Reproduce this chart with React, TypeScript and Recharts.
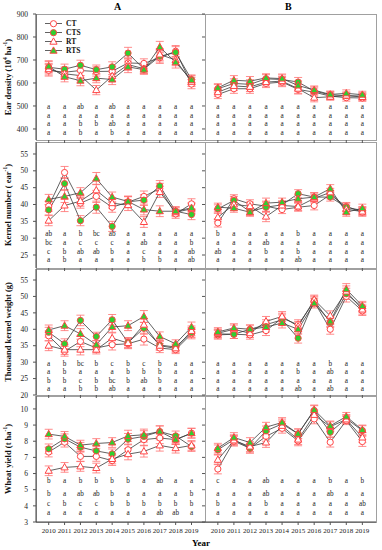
import React from "react";
import { ComposedChart, Line, Scatter, XAxis, YAxis, ErrorBar, Legend } from "recharts";

const years = [2010, 2011, 2012, 2013, 2014, 2015, 2016, 2017, 2018, 2019];
const treatments = ["CT", "CTS", "RT", "RTS"];

// series order: CT, CTS, RT, RTS
const earA = [
  [655, 647, 654, 650, 651, 687, 685, 710, 738, 595],
  [668, 660, 677, 658, 670, 730, 660, 716, 733, 615],
  [660, 640, 632, 569, 630, 680, 662, 724, 700, 605],
  [672, 627, 610, 621, 615, 670, 658, 756, 690, 612],
];
const earB = [
  [550, 575, 575, 598, 604, 572, 560, 543, 536, 535],
  [575, 598, 594, 618, 615, 604, 565, 548, 545, 543],
  [560, 587, 583, 604, 608, 575, 536, 540, 545, 539],
  [579, 612, 608, 622, 619, 589, 569, 550, 555, 549],
];
const kernelA = [
  [39.5, 49.5, 40.4, 42.4, 39.2, 40.7, 42.4, 44.7, 37.2, 40.2],
  [38.4, 46.2, 35.2, 39.2, 33.5, 40.8, 41.3, 45.5, 38.0, 37.0],
  [35.2, 39.7, 41.0, 44.2, 40.4, 39.8, 34.8, 43.7, 37.7, 38.7],
  [41.5, 42.4, 43.5, 47.7, 42.2, 40.9, 38.5, 38.0, 38.0, 39.0],
];
const kernelB = [
  [34.5, 41.7, 40.2, 39.5, 38.5, 39.2, 39.7, 42.9, 39.4, 37.7],
  [38.7, 41.2, 37.9, 39.2, 39.9, 43.2, 42.2, 42.2, 39.2, 38.2],
  [36.2, 40.0, 39.5, 36.4, 39.7, 39.4, 41.8, 43.6, 38.6, 37.9],
  [39.2, 38.9, 37.7, 40.4, 40.7, 41.7, 42.2, 44.7, 37.7, 38.9],
];
const tkwA = [
  [38.0, 33.3, 36.3, 34.3, 35.3, 35.6, 37.0, 34.3, 33.8, 38.6],
  [39.1, 35.6, 42.7, 37.8, 42.9, 36.0, 40.3, 35.2, 34.6, 39.0],
  [35.0, 33.8, 33.8, 33.8, 37.3, 35.8, 41.4, 35.0, 34.2, 39.5],
  [39.8, 41.1, 38.6, 35.3, 40.7, 41.1, 43.9, 37.8, 35.6, 40.7],
];
const tkwB = [
  [38.3, 38.5, 38.3, 39.6, 43.4, 41.4, 48.4, 40.0, 50.0, 45.6],
  [38.6, 38.5, 40.0, 41.4, 42.9, 37.3, 48.7, 42.1, 50.8, 46.7],
  [38.8, 40.0, 38.8, 42.4, 43.9, 40.9, 49.0, 44.1, 51.5, 46.0],
  [39.2, 40.4, 40.0, 40.7, 41.9, 40.0, 47.9, 42.4, 52.2, 47.1],
];
const yieldA = [
  [7.33, 7.94, 7.06, 7.06, 6.8, 7.47, 8.1, 8.2, 8.1, 8.5],
  [7.53, 8.15, 7.63, 7.4, 7.22, 8.13, 8.3, 8.6, 8.33, 7.67],
  [6.17, 6.38, 6.44, 6.34, 6.9, 7.2, 7.37, 7.74, 7.57, 7.74],
  [8.44, 8.3, 7.76, 7.86, 7.92, 8.33, 8.4, 8.6, 8.1, 8.5],
];
const yieldB = [
  [6.28, 8.0, 7.57, 8.3, 8.8, 8.02, 9.38, 7.94, 9.28, 7.98],
  [7.47, 8.1, 7.57, 8.64, 9.07, 8.46, 9.9, 8.56, 9.4, 8.66],
  [6.85, 8.05, 7.67, 7.92, 8.95, 8.1, 9.63, 8.9, 9.35, 8.23],
  [7.57, 8.23, 7.92, 8.87, 9.16, 8.46, 9.94, 8.95, 9.53, 8.7],
];

const earAErr = [25, 22, 22, 20, 22, 25, 20, 25, 25, 20];
const earBErr = [18, 20, 20, 18, 20, 20, 18, 15, 15, 15];
const kernelAErr = [1.5, 1.8, 1.5, 1.8, 1.5, 1.6, 1.6, 1.6, 1.3, 1.5];
const kernelBErr = [1.2, 1.2, 1.2, 1.5, 1.2, 1.2, 1.3, 1.2, 1.2, 1.2];
const tkwAErr = [1.5, 1.5, 1.6, 1.3, 1.6, 1.5, 1.8, 1.4, 1.2, 1.5];
const tkwBErr = [1.3, 1.3, 1.3, 1.5, 1.5, 1.5, 1.4, 1.5, 1.7, 1.4];
const yieldAErr = [0.3, 0.3, 0.3, 0.3, 0.3, 0.35, 0.35, 0.35, 0.3, 0.3];
const yieldBErr = [0.3, 0.3, 0.3, 0.3, 0.3, 0.3, 0.3, 0.3, 0.25, 0.3];

// significance letters, one row per treatment
const earALetters = [
  ["a", "a", "ab", "a", "ab", "a", "a", "a", "a", "a"],
  ["a", "a", "a", "a", "a", "a", "a", "a", "a", "a"],
  ["a", "a", "b", "b", "ab", "a", "a", "a", "a", "a"],
  ["a", "a", "b", "a", "b", "a", "a", "a", "a", "a"],
];
const earBLetters = [
  ["a", "a", "a", "a", "a", "a", "a", "a", "a", "a"],
  ["a", "a", "a", "a", "a", "a", "a", "a", "a", "a"],
  ["a", "a", "a", "a", "a", "a", "a", "a", "a", "a"],
  ["a", "a", "a", "a", "a", "a", "a", "a", "a", "a"],
];
const kernelALetters = [
  ["ab", "a", "b", "bc", "ab", "a", "a", "a", "a", "a"],
  ["bc", "a", "c", "c", "c", "a", "ab", "a", "a", "b"],
  ["c", "b", "ab", "ab", "b", "a", "c", "a", "a", "ab"],
  ["a", "b", "a", "a", "a", "a", "b", "b", "a", "ab"],
];
const kernelBLetters = [
  ["b", "a", "a", "a", "a", "b", "a", "a", "a", "a"],
  ["a", "a", "a", "ab", "a", "a", "a", "a", "a", "a"],
  ["ab", "a", "a", "b", "a", "b", "a", "a", "a", "a"],
  ["a", "a", "a", "a", "a", "ab", "a", "a", "a", "a"],
];
const tkwALetters = [
  ["a", "b", "bc", "b", "c", "b", "c", "b", "a", "a"],
  ["a", "b", "a", "a", "a", "b", "b", "b", "a", "a"],
  ["b", "b", "c", "b", "bc", "b", "ab", "b", "a", "a"],
  ["a", "a", "b", "b", "ab", "a", "a", "a", "a", "a"],
];
const tkwBLetters = [
  ["a", "a", "a", "a", "a", "a", "a", "b", "a", "a"],
  ["a", "a", "a", "a", "a", "b", "a", "ab", "a", "a"],
  ["a", "a", "a", "a", "a", "a", "a", "a", "a", "a"],
  ["a", "a", "a", "a", "a", "ab", "a", "ab", "a", "a"],
];
const yieldALetters = [
  ["b", "a", "b", "b", "b", "b", "a", "ab", "a", "a"],
  ["b", "a", "ab", "ab", "b", "a", "a", "a", "a", "b"],
  ["c", "b", "c", "c", "b", "b", "b", "b", "b", "b"],
  ["a", "a", "a", "a", "a", "a", "a", "ab", "ab", "a"],
];
const yieldBLetters = [
  ["c", "a", "a", "ab", "a", "a", "a", "b", "a", "b"],
  ["a", "a", "a", "ab", "a", "a", "a", "ab", "a", "a"],
  ["b", "a", "a", "b", "a", "a", "a", "a", "a", "ab"],
  ["a", "a", "a", "a", "a", "a", "a", "a", "a", "a"],
];

const earTicks = [400, 500, 600, 700, 800, 900];
const kernelTicks = [25, 30, 35, 40, 45, 50, 55];
const tkwTicks = [20, 25, 30, 35, 40, 45, 50, 55];
const yieldTicks = [3, 4, 5, 6, 7, 8, 9, 10];

const RED = "#ff4545";
const ERR = "#ff6e6e";
const GREEN = "#2fcf2f";
const LINE = "#3a3a3a";
const BORDER = "#a0a0a0";
const FONT = "'Liberation Serif', 'Times New Roman', serif";

function Marker({ cx, cy, kind }: { cx: number; cy: number; kind: string }) {
  if (cx == null || cy == null) return null;
  if (kind === "CT" || kind === "CTS") {
    return (
      <circle cx={cx} cy={cy} r={3.1} fill={kind === "CT" ? "#fff" : GREEN} stroke={RED} strokeWidth={1} />
    );
  }
  const pts = `${cx},${cy - 3.8} ${cx + 3.6},${cy + 2.5} ${cx - 3.6},${cy + 2.5}`;
  return <polygon points={pts} fill={kind === "RT" ? "#fff" : GREEN} stroke={RED} strokeWidth={1} />;
}

function buildRows(series: number[][], err: number[]) {
  return years.map((year, i) => {
    const row: any = { year, err: err[i] };
    treatments.forEach((t, k) => (row[t] = series[k][i]));
    return row;
  });
}

function letterRows(letters: string[][], levels: number[], k: number) {
  return years.map((year, i) => ({ year, y: levels[k], text: letters[k][i] }));
}

function LegendBox() {
  return (
    <div style={{ fontFamily: FONT, fontWeight: "bold", fontSize: 7.5, color: "#111" }}>
      {treatments.map((t) => (
        <div key={t} style={{ display: "flex", alignItems: "center", height: 9 }}>
          <svg width={19} height={9}>
            <line x1={0} x2={17} y1={4.5} y2={4.5} stroke={LINE} strokeWidth={0.8} />
            <Marker cx={8.5} cy={4.7} kind={t} />
          </svg>
          <span style={{ marginLeft: 2 }}>{t}</span>
        </div>
      ))}
    </div>
  );
}

function YTitle(props: any) {
  const vb = props.viewBox || {};
  const cx = 8;
  const cy = vb.y + vb.height / 2;
  return (
    <text
      x={cx}
      y={cy}
      transform={`rotate(-90 ${cx} ${cy})`}
      textAnchor="middle"
      dominantBaseline="central"
      fontFamily={FONT}
      fontWeight="bold"
      fontSize={8.5}
      fill="#111"
    >
      {props.parts}
    </text>
  );
}

const sup = (s: string) => (
  <tspan baselineShift="super" fontSize={5.5}>
    {s}
  </tspan>
);

type PanelProps = {
  left: number;
  top: number;
  width: number;
  plotH: number;
  side: "A" | "B";
  bottom: boolean;
  series: number[][];
  err: number[];
  letters: string[][];
  levels: number[];
  domain: [number, number];
  ticks: number[];
  title?: React.ReactNode;
  legend?: boolean;
};

function Panel(p: PanelProps) {
  const xh = p.bottom ? 24 : 4;
  const mt = 4;
  const yW = p.side === "A" ? 36 : 6;
  const rows = buildRows(p.series, p.err);
  return (
    <div style={{ position: "absolute", left: p.left, top: p.top - mt }}>
      <ComposedChart
        width={p.width}
        height={mt + p.plotH + xh}
        data={rows}
        margin={{ top: mt, right: 0, bottom: 0, left: 0 }}
      >
        <XAxis
          dataKey="year"
          type="number"
          domain={[2009.2, 2019.85]}
          ticks={years}
          interval={0}
          allowDataOverflow
          height={xh}
          tickSize={3}
          tickMargin={3}
          axisLine={p.bottom ? { stroke: "#444" } : false}
          tickLine={{ stroke: "#555" }}
          tick={{ fontSize: 7, fill: "#222", fontFamily: FONT }}
          tickFormatter={(v) => (p.bottom ? String(v) : "")}
        />
        <YAxis
          type="number"
          domain={p.domain}
          ticks={p.ticks}
          interval={0}
          allowDataOverflow
          width={yW}
          tickSize={3}
          tickMargin={5}
          axisLine={p.side === "A" ? { stroke: "#444" } : false}
          tickLine={{ stroke: "#555" }}
          tick={{ fontSize: 7.5, fill: "#222", fontFamily: FONT }}
          tickFormatter={(v) => (p.side === "A" ? String(v) : "")}
          label={p.title ? <YTitle parts={p.title} /> : undefined}
        />
        {p.legend && (
          <Legend
            layout="vertical"
            align="center"
            verticalAlign="middle"
            wrapperStyle={{ left: 45, top: 9, width: 60, height: 36 }}
            content={() => <LegendBox />}
          />
        )}
        {treatments.map((t) => (
          <Line
            key={t}
            dataKey={t}
            name={t}
            stroke={LINE}
            strokeWidth={0.8}
            isAnimationActive={false}
            activeDot={false}
            dot={(d: any) => <Marker key={`${t}-${d.index}`} cx={d.cx} cy={d.cy} kind={t} />}
          >
            <ErrorBar dataKey="err" direction="y" width={4} stroke={ERR} strokeWidth={0.8} />
          </Line>
        ))}
        {treatments.map((t, k) => (
          <Scatter
            key={`letters-${t}`}
            data={letterRows(p.letters, p.levels, k)}
            dataKey="y"
            isAnimationActive={false}
            shape={(s: any) => (
              <text
                x={s.cx}
                y={s.cy}
                textAnchor="middle"
                dominantBaseline="central"
                fontFamily={FONT}
                fontSize={7.2}
                fill="#222"
              >
                {s.payload.text}
              </text>
            )}
          />
        ))}
      </ComposedChart>
    </div>
  );
}

const rowsGeom = [
  { top: 14, h: 126 },
  { top: 142, h: 126 },
  { top: 269, h: 126 },
  { top: 396, h: 126 },
];

export default function App() {
  const colA = { left: 0, width: 205 };
  const colB = { left: 199, width: 177 };
  const frames = [
    [36, 205],
    [205, 376],
  ];
  return (
    <div style={{ position: "absolute", left: 0, top: 0, width: 382, height: 550, background: "#fff", overflow: "hidden" }}>
      <div style={{ position: "absolute", left: 114, top: 1, fontFamily: FONT, fontWeight: "bold", fontSize: 10 }}>A</div>
      <div style={{ position: "absolute", left: 285, top: 1, fontFamily: FONT, fontWeight: "bold", fontSize: 10 }}>B</div>

      {rowsGeom.map((r, i) =>
        frames.map(([x0, x1], j) => (
          <div
            key={`f${i}${j}`}
            style={{
              position: "absolute",
              left: x0,
              top: r.top,
              width: x1 - x0 + 1,
              height: r.h + 1,
              border: `1px solid ${BORDER}`,
              boxSizing: "border-box",
            }}
          />
        ))
      )}

      <Panel {...colA} top={14} plotH={126} side="A" bottom={false} series={earA} err={earAErr}
        letters={earALetters} levels={[496, 458, 420, 382]} domain={[352, 900]} ticks={earTicks}
        title={<>Ear density (10{sup("4")} ha{sup("-1")})</>} legend />
      <Panel {...colB} top={14} plotH={126} side="B" bottom={false} series={earB} err={earBErr}
        letters={earBLetters} levels={[496, 458, 420, 382]} domain={[352, 900]} ticks={earTicks} />

      <Panel {...colA} top={142} plotH={126} side="A" bottom={false} series={kernelA} err={kernelAErr}
        letters={kernelALetters} levels={[31.2, 28.6, 26.0, 23.4]} domain={[21.14, 58.56]} ticks={kernelTicks}
        title={<>Kernel number ( ear{sup("-1")})</>} />
      <Panel {...colB} top={142} plotH={126} side="B" bottom={false} series={kernelB} err={kernelBErr}
        letters={kernelBLetters} levels={[31.2, 28.6, 26.0, 23.4]} domain={[21.14, 58.56]} ticks={kernelTicks} />

      <Panel {...colA} top={269} plotH={126} side="A" bottom={false} series={tkwA} err={tkwAErr}
        letters={tkwALetters} levels={[29.4, 26.9, 24.4, 21.9]} domain={[20, 58.35]} ticks={tkwTicks}
        title={<>Thousand kernel weight (g)</>} />
      <Panel {...colB} top={269} plotH={126} side="B" bottom={false} series={tkwB} err={tkwBErr}
        letters={tkwBLetters} levels={[29.4, 26.9, 24.4, 21.9]} domain={[20, 58.35]} ticks={tkwTicks} />

      <Panel {...colA} top={396} plotH={126} side="A" bottom series={yieldA} err={yieldAErr}
        letters={yieldALetters} levels={[5.55, 4.75, 4.1, 3.55]} domain={[3, 10.8]} ticks={yieldTicks}
        title={<>Wheat yield (t ha{sup("-1")})</>} />
      <Panel {...colB} top={396} plotH={126} side="B" bottom series={yieldB} err={yieldBErr}
        letters={yieldBLetters} levels={[5.55, 4.75, 4.1, 3.55]} domain={[3, 10.8]} ticks={yieldTicks} />

      <div style={{ position: "absolute", left: 192, top: 538, fontFamily: FONT, fontWeight: "bold", fontSize: 9 }}>Year</div>
    </div>
  );
}
